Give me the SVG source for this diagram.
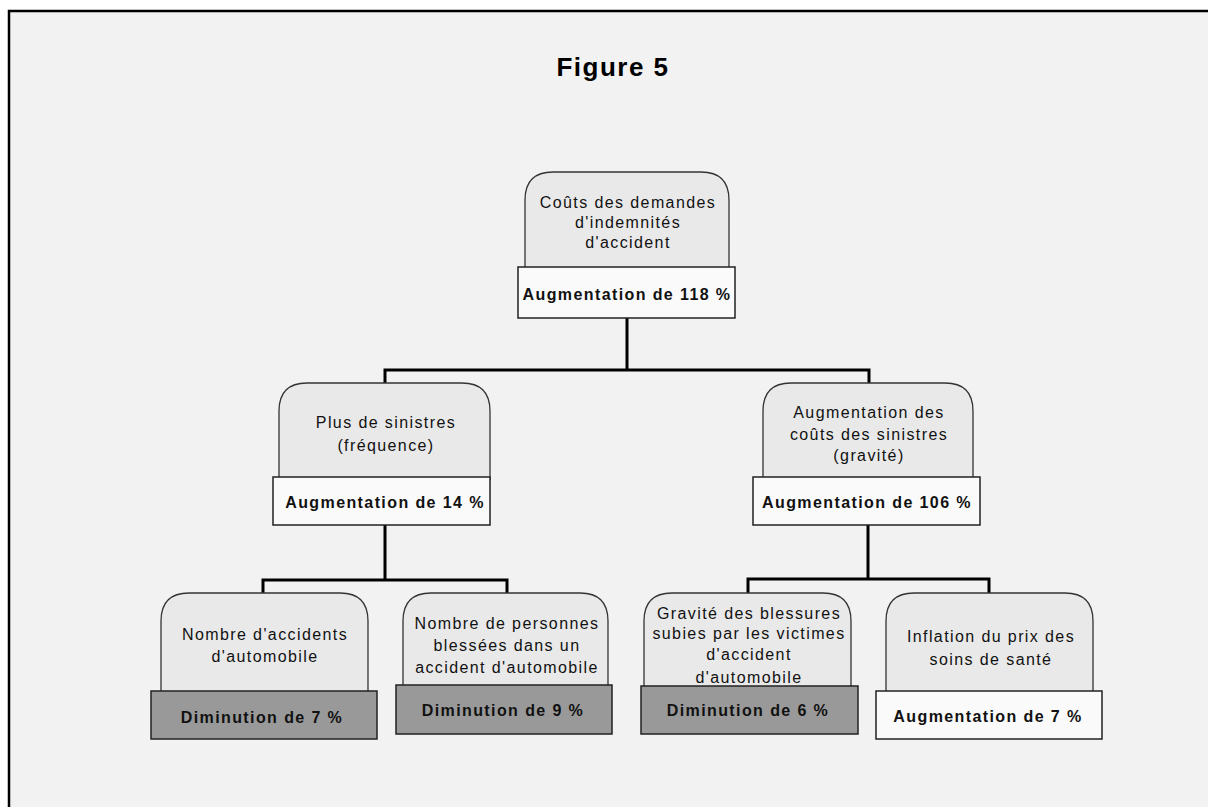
<svg xmlns="http://www.w3.org/2000/svg" width="1208" height="807" viewBox="0 0 1208 807">
<style>
.bg{fill:#f2f2f2;stroke:#000;stroke-width:2.5}
.shape{fill:#e9e9e9;stroke:#333;stroke-width:1.3}
.lbl{fill:#fafafa;stroke:#222;stroke-width:1.5}
.lbl.dark{fill:#999999}
.t{font-family:"Liberation Sans",Arial,sans-serif;font-size:16px;letter-spacing:1.4px;fill:#111;text-anchor:middle}
.b{font-weight:bold}
.title{font-family:"Liberation Sans",Arial,sans-serif;font-size:26px;font-weight:bold;letter-spacing:1.5px;fill:#000;text-anchor:middle}
.conn{fill:none;stroke:#000;stroke-width:3}
</style>
<rect x="0" y="0" width="1208" height="807" fill="#ffffff"/>
<rect class="bg" x="9" y="11" width="1215" height="810"/>
<text class="title" x="613" y="76">Figure 5</text>

<g id="connectors">
<path class="conn" d="M627,318 V370 M385,383 V370 H869 V383"/>
<path class="conn" d="M385,525 V580 M263,593 V580 H507 V593"/>
<path class="conn" d="M868,525 V579 M748,593 V579 H989 V593"/>
</g>

<g id="node-root">
<path class="shape" d="M525,270 V200 Q525,172 553,172 H701 Q729,172 729,200 V270"/>
<text class="t" x="628" y="208">Coûts des demandes</text>
<text class="t" x="628" y="228">d'indemnités</text>
<text class="t" x="628" y="248">d'accident</text>
<rect class="lbl" x="518" y="267" width="217" height="51"/>
<text class="t b" x="627" y="300">Augmentation de 118 %</text>
</g>

<g id="node-frequence">
<path class="shape" d="M279,480 V411 Q279,383 307,383 H462 Q490,383 490,411 V480"/>
<text class="t" x="386" y="428">Plus de sinistres</text>
<text class="t" x="386" y="451">(fréquence)</text>
<rect class="lbl" x="273" y="477" width="217" height="48"/>
<text class="t b" x="385" y="508">Augmentation de 14 %</text>
</g>

<g id="node-gravite">
<path class="shape" d="M763,480 V411 Q763,383 791,383 H945 Q973,383 973,411 V480"/>
<text class="t" x="869" y="418">Augmentation des</text>
<text class="t" x="869" y="440">coûts des sinistres</text>
<text class="t" x="869" y="461">(gravité)</text>
<rect class="lbl" x="753" y="477" width="227" height="48"/>
<text class="t b" x="867" y="508">Augmentation de 106 %</text>
</g>

<g id="node-accidents">
<path class="shape" d="M161,694 V621 Q161,593 189,593 H340 Q368,593 368,621 V694"/>
<text class="t" x="265" y="640">Nombre d'accidents</text>
<text class="t" x="265" y="662">d'automobile</text>
<rect class="lbl dark" x="151" y="691" width="226" height="48"/>
<text class="t b" x="262" y="723">Diminution de 7 %</text>
</g>

<g id="node-personnes">
<path class="shape" d="M403,688 V621 Q403,593 431,593 H580 Q608,593 608,621 V688"/>
<text class="t" x="507" y="629">Nombre de personnes</text>
<text class="t" x="507" y="651">blessées dans un</text>
<text class="t" x="507" y="673">accident d'automobile</text>
<rect class="lbl dark" x="396" y="685" width="216" height="49"/>
<text class="t b" x="503" y="716">Diminution de 9 %</text>
</g>

<g id="node-blessures">
<path class="shape" d="M644,689 V621 Q644,593 672,593 H823 Q851,593 851,621 V689"/>
<text class="t" x="749" y="619">Gravité des blessures</text>
<text class="t" x="749" y="639">subies par les victimes</text>
<text class="t" x="749" y="660">d'accident</text>
<text class="t" x="749" y="683">d'automobile</text>
<rect class="lbl dark" x="641" y="686" width="217" height="48"/>
<text class="t b" x="748" y="716">Diminution de 6 %</text>
</g>

<g id="node-inflation">
<path class="shape" d="M886,694 V621 Q886,593 914,593 H1065 Q1093,593 1093,621 V694"/>
<text class="t" x="991" y="642">Inflation du prix des</text>
<text class="t" x="991" y="665">soins de santé</text>
<rect class="lbl" x="876" y="691" width="226" height="48"/>
<text class="t b" x="988" y="722">Augmentation de 7 %</text>
</g>
</svg>
